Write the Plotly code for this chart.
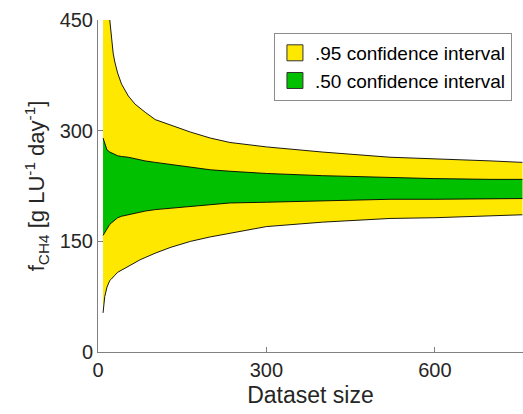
import plotly.graph_objects as go

# Dataset size (x) and confidence-interval bounds
dataset_size = [9, 12, 16, 21, 24, 27, 30, 35, 42, 48, 54, 66, 75, 84, 102, 130, 165, 200, 235, 300, 400, 520, 600, 700, 756]
upper95 = [700, 580, 500, 450, 422, 405, 393, 378, 363, 354, 347, 336, 330, 325, 315, 307, 298, 290, 284, 278, 271, 264, 262, 259, 257]
upper50 = [290, 282, 274, 271, 270, 269, 268, 266, 265, 265, 264, 262, 260, 259, 257, 254, 250, 247, 245, 242, 239, 236, 235, 234, 234]
lower50 = [158, 162, 167, 173, 175, 177, 179, 182, 184, 185, 186, 189, 190, 191, 193, 195, 198, 200, 202, 203, 205, 207, 207, 208, 208]
lower95 = [53, 75, 88, 97, 99, 102, 104, 108, 111, 114, 116, 122, 125, 128, 134, 142, 150, 156, 161, 170, 176, 181, 182, 185, 186]

x_ticks = [0, 300, 600]
y_ticks = [0, 150, 300, 450]
legend_names = [".95 confidence interval", ".50 confidence interval"]

YELLOW = "#FFE800"
GREEN = "#00C000"
EDGE = "black"
FONT = "Liberation Sans, Arial, sans-serif"

fig = go.Figure()
# filled bands
bands = [(lower95, upper95, YELLOW), (lower50, upper50, GREEN)]
for lo, hi, col in bands:
    fig.add_trace(go.Scatter(x=dataset_size, y=lo, mode="lines",
                             line=dict(width=0, color=col), showlegend=False,
                             hoverinfo="skip"))
    fig.add_trace(go.Scatter(x=dataset_size, y=hi, mode="lines", fill="tonexty",
                             line=dict(width=0, color=col), fillcolor=col,
                             showlegend=False, hoverinfo="skip"))
# black edges
for series in (upper95, upper50, lower50, lower95):
    fig.add_trace(go.Scatter(x=dataset_size, y=series, mode="lines",
                             line=dict(color=EDGE, width=0.9), showlegend=False,
                             hoverinfo="skip"))
# legend swatches (boxes)
for name, col in zip(legend_names, [YELLOW, GREEN]):
    fig.add_trace(go.Scatter(x=[None], y=[None], mode="markers", name=name,
                             marker=dict(symbol="square", size=18, color=col,
                                         line=dict(color="#333333", width=1))))

fig.update_layout(
    width=523, height=414,
    margin=dict(l=98, r=0, t=20, b=62),
    paper_bgcolor="white", plot_bgcolor="white",
    font=dict(family=FONT, color="#262626"),
    legend=dict(x=0.974, y=0.961, xanchor="right", yanchor="top",
                bgcolor="white", bordercolor="#8c8c8c", borderwidth=1,
                font=dict(size=19, color="black"), traceorder="normal",
                itemsizing="trace", itemwidth=30, tracegroupgap=0),
)
fig.update_xaxes(range=[0, 757], tickvals=x_ticks, ticks="inside", ticklen=5,
                 tickcolor="#808080", showline=True, linecolor="#808080",
                 linewidth=1, showgrid=False, zeroline=False,
                 tickfont=dict(size=20),
                 title=dict(text="Dataset size", font=dict(size=23), standoff=6))
fig.update_yaxes(range=[0, 450], tickvals=y_ticks, ticks="inside", ticklen=5,
                 tickcolor="#808080", showline=True, linecolor="#808080",
                 linewidth=1, showgrid=False, zeroline=False,
                 tickfont=dict(size=20),
                 title=dict(text="f<sub>CH4</sub> [g LU<sup>-1</sup> day<sup>-1</sup>]",
                            font=dict(size=22), standoff=8))

fig.write_html("out.html")
